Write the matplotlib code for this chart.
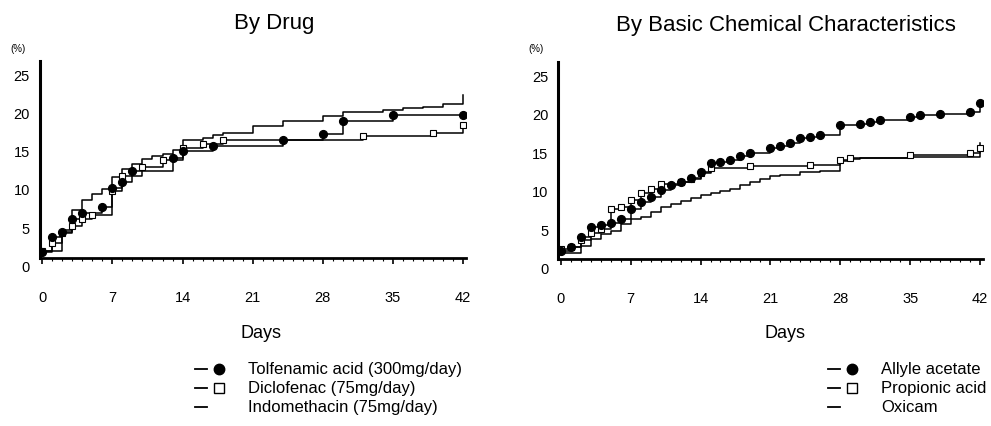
import matplotlib
matplotlib.use("Agg")
import matplotlib.pyplot as plt
from matplotlib.lines import Line2D
from matplotlib.ticker import MultipleLocator

plt.rcParams['font.family'] = ['Liberation Sans', 'DejaVu Sans']

# ---- data (days, cumulative %) ----
# left panel: by drug
days_tol = [0, 1, 2, 3, 4, 6, 7, 8, 9, 13, 14, 17, 24, 28, 30, 35, 42]
pct_tol = [1.8, 3.7, 4.4, 6.1, 6.85, 7.7, 10.1, 10.9, 12.4, 14.1, 14.9, 15.6, 16.4, 17.2, 18.85, 19.6, 19.6]

days_dic = [0, 1, 2, 3, 4, 5, 7, 8, 10, 12, 14, 16, 18, 32, 39, 42]
pct_dic = [1.9, 2.9, 4.2, 5.1, 6.1, 6.6, 9.7, 11.7, 12.8, 13.8, 15.3, 15.9, 16.4, 16.9, 17.3, 18.3]

days_ind = [0, 2, 3, 4, 5, 6, 7, 8, 9, 10, 11, 12, 13, 14, 16, 17, 18, 21, 24, 28, 30, 34, 36, 38, 40, 42]
pct_ind = [1.9, 4.6, 7.2, 8.6, 9.3, 10.0, 11.6, 12.6, 13.3, 13.9, 14.3, 14.6, 15.1, 16.4, 16.7, 17.0,
           17.3, 18.25, 18.9, 19.5, 20.1, 20.3, 20.5, 20.7, 21.1, 22.3]

# right panel: by basic chemical characteristics
days_all = [0, 1, 2, 3, 4, 5, 6, 7, 8, 9, 10, 11, 12, 13, 14, 15, 16, 17, 18, 19, 21, 22, 23, 24,
            25, 26, 28, 30, 31, 32, 35, 36, 38, 41, 42]
pct_all = [2.2, 2.7, 4.0, 5.3, 5.6, 5.8, 6.4, 7.7, 8.6, 9.2, 10.1, 10.7, 11.2, 11.7, 12.5, 13.6, 13.8,
           14.0, 14.5, 14.9, 15.5, 15.8, 16.2, 16.8, 17.0, 17.2, 18.5, 18.65, 18.9, 19.2, 19.6, 19.8,
           20.0, 20.25, 21.35]

days_pro = [0, 1, 2, 3, 4, 5, 6, 7, 8, 9, 10, 12, 13, 14, 15, 19, 25, 28, 29, 35, 41, 42]
pct_pro = [2.5, 2.7, 3.6, 4.6, 5.0, 7.6, 7.9, 8.8, 9.7, 10.3, 10.9, 11.1, 11.5, 12.3, 12.9, 13.2,
           13.4, 14.0, 14.3, 14.6, 14.95, 15.5]

days_oxi = [0, 2, 3, 4, 5, 6, 7, 8, 9, 10, 11, 12, 13, 14, 15, 16, 17, 18, 19, 20, 21, 22, 24, 26,
            28, 29, 30, 35, 42]
pct_oxi = [1.9, 2.9, 3.8, 4.4, 4.8, 5.7, 6.3, 6.6, 7.2, 7.9, 8.3, 8.7, 9.1, 9.45, 9.7, 10.0, 10.3,
           10.7, 11.1, 11.5, 11.9, 12.05, 12.4, 12.6, 13.9, 14.1, 14.3, 14.45, 16.2]

x_ticks = [0, 7, 14, 21, 28, 35, 42]
y_ticks = [0, 5, 10, 15, 20, 25]

W, H = 991, 427
fig = plt.figure(figsize=(W / 100, H / 100), dpi=100)


def fx(px):
    return px / W


def fy(py):
    return 1 - py / H


def setup(ax, base):
    ax.set_xlim(-0.28, 42.3)
    ax.set_ylim(0, 26.7)
    for s in ['top', 'right']:
        ax.spines[s].set_visible(False)
    ax.spines['bottom'].set_position(('data', base))
    ax.spines['bottom'].set_linewidth(2.0)
    ax.spines['left'].set_linewidth(2.2)
    ax.spines['left'].set_bounds(base, 26.7)
    ax.set_xticks(x_ticks)
    ax.xaxis.set_minor_locator(MultipleLocator(1))
    ax.set_yticks(y_ticks)
    ax.tick_params(axis='x', which='major', direction='out', length=4, width=1.2,
                   pad=19, labelsize=10.5)
    ax.tick_params(axis='x', which='minor', direction='out', length=2.5, width=0.8)
    ax.tick_params(axis='y', length=0, pad=7, labelsize=10.5)
    ax.patch.set_visible(False)


lw = 1.1
# ---- left panel ----
ax1 = fig.add_axes([fx(39.5), fy(266.5), fx(466) - fx(39.5), (266.5 - 62) / H])
setup(ax1, 1.0)
ax1.step(days_ind, pct_ind, where='post', color='black', lw=lw)
ax1.step(days_dic, pct_dic, where='post', color='black', lw=lw)
ax1.step(days_tol, pct_tol, where='post', color='black', lw=lw)
ax1.plot(days_dic, pct_dic, ls='none', marker='s', ms=4.5, mfc='white', mec='black', mew=0.8)
ax1.plot(days_tol, pct_tol, ls='none', marker='o', ms=5.6, color='black')

# ---- right panel ----
ax2 = fig.add_axes([fx(558), fy(269), fx(983) - fx(558), (269 - 63) / H])
setup(ax2, 1.15)
ax2.step(days_oxi, pct_oxi, where='post', color='black', lw=lw)
ax2.step(days_pro, pct_pro, where='post', color='black', lw=lw)
ax2.step(days_all, pct_all, where='post', color='black', lw=lw)
ax2.plot(days_pro, pct_pro, ls='none', marker='s', ms=4.5, mfc='white', mec='black', mew=0.8)
ax2.plot(days_all, pct_all, ls='none', marker='o', ms=5.6, color='black')

# ---- texts ----
fig.text(fx(274), fy(23), 'By Drug', ha='center', va='center', fontsize=16)
fig.text(fx(786), fy(25), 'By Basic Chemical Characteristics', ha='center', va='center', fontsize=16)
fig.text(fx(18), fy(49), '(%)', ha='center', va='center', fontsize=7)
fig.text(fx(536), fy(49), '(%)', ha='center', va='center', fontsize=7)
fig.text(fx(261), fy(334), 'Days', ha='center', va='center', fontsize=13)
fig.text(fx(785), fy(334), 'Days', ha='center', va='center', fontsize=13)

# ---- hand-made legends ----
labels_left = ['Tolfenamic acid (300mg/day)', 'Diclofenac (75mg/day)', 'Indomethacin (75mg/day)']
labels_right = ['Allyle acetate', 'Propionic acid', 'Oxicam']
rows_y = [370, 389, 408]
markers = ['o', 's', None]


def legend(x_dash, x_mark, x_text, labels):
    for yy, mk, lab in zip(rows_y, markers, labels):
        fig.add_artist(Line2D([fx(x_dash), fx(x_dash + 12)], [fy(yy), fy(yy)],
                              transform=fig.transFigure, color='black', lw=1.3))
        if mk == 'o':
            fig.add_artist(Line2D([fx(x_mark)], [fy(yy)], transform=fig.transFigure,
                                  marker='o', ms=7.5, color='black', ls='none'))
        elif mk == 's':
            fig.add_artist(Line2D([fx(x_mark)], [fy(yy)], transform=fig.transFigure,
                                  marker='s', ms=6.5, mfc='white', mec='black', mew=1.0, ls='none'))
        fig.text(fx(x_text), fy(yy), lab, ha='left', va='center', fontsize=12)


legend(195, 219, 248, labels_left)
legend(828, 852, 881, labels_right)

fig.savefig('out.png', dpi=100)
